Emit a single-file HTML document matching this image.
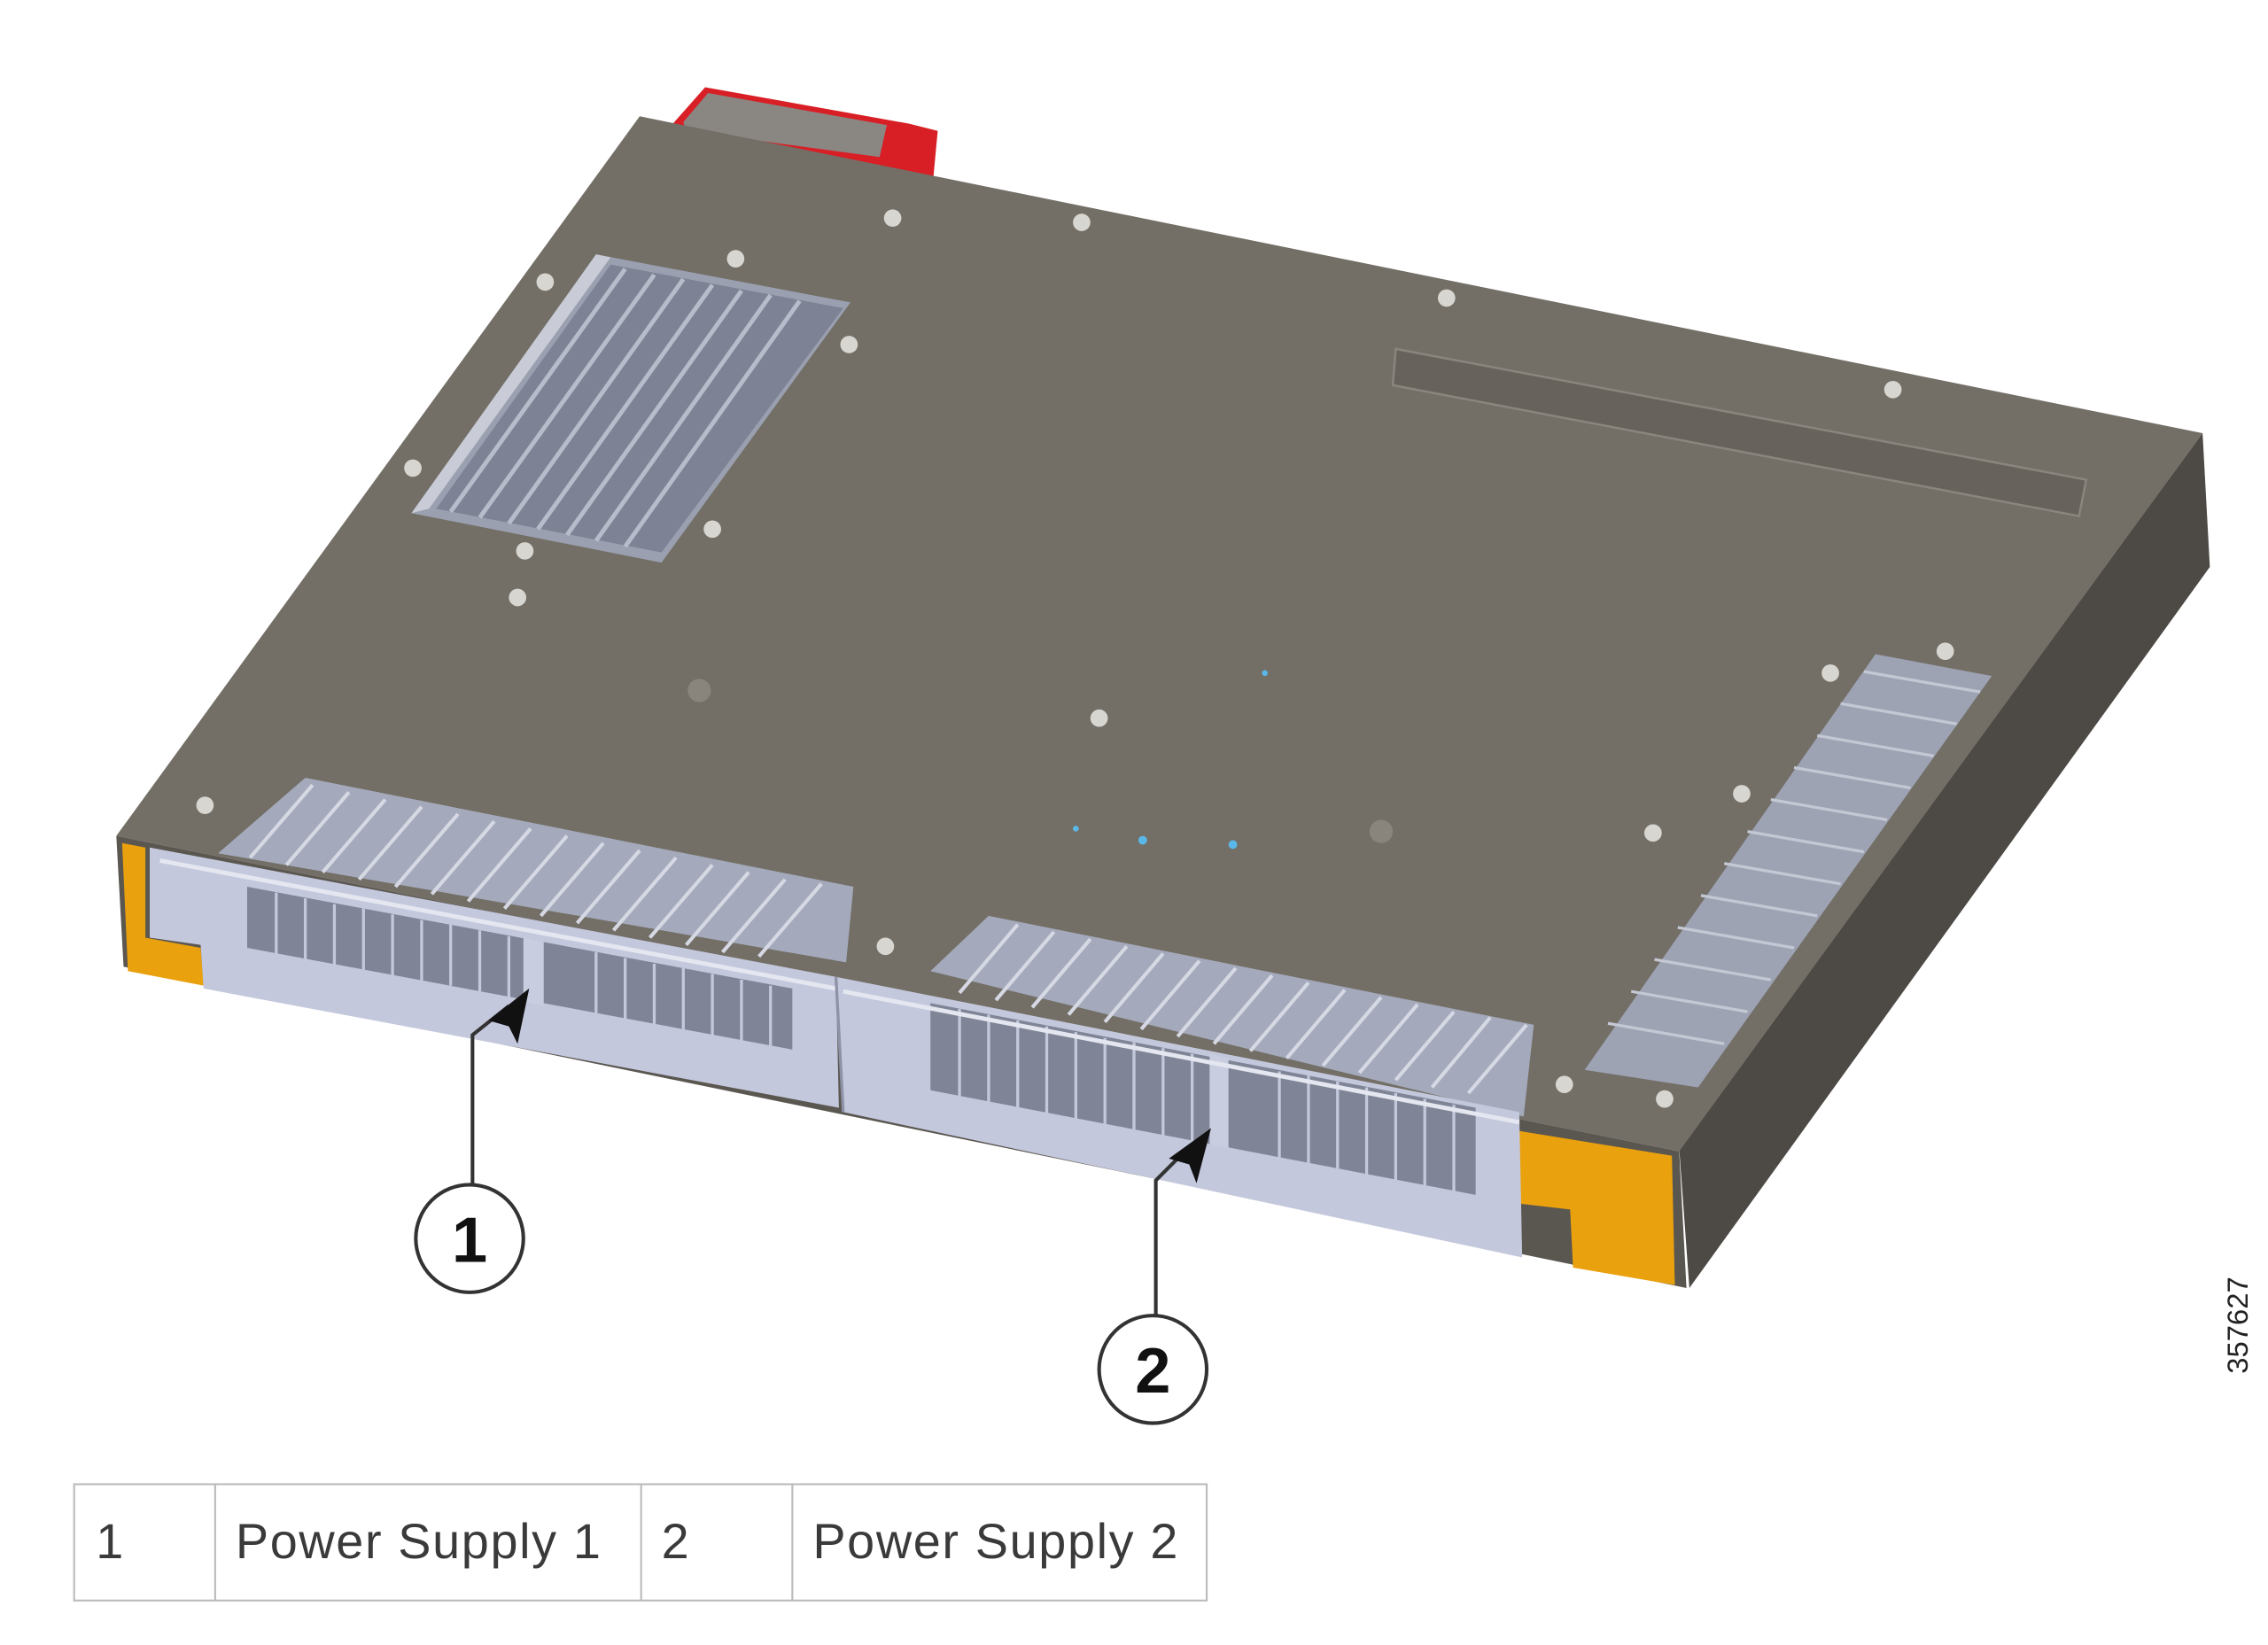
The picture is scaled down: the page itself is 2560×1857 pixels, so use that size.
<!DOCTYPE html>
<html><head><meta charset="utf-8"><style>
html,body{margin:0;padding:0;background:#fff;width:2560px;height:1857px;overflow:hidden}
svg{display:block}
</style></head><body>
<svg width="2560" height="1857" viewBox="0 0 1560 1131.6" xmlns="http://www.w3.org/2000/svg">
<polygon points="462,86 485,60 625,85 645,90 642,122 462,92" fill="#d81f26"/>
<polygon points="470,84 487,64 610,86 605,108 472,90" fill="#8a8682"/>
<polygon points="1515,298 1520,390 1162,886 1155,790" fill="#4d4a45"/>
<polygon points="440,80 1515,298 1155,792 80,575" fill="#736f67"/>
<polygon points="80,575 1155,792 1160,886 85,665" fill="#5a5650"/>
<polygon points="84,580 100,583 100,645 138,652 140,678 88,668" fill="#e9a10e"/>
<polygon points="1045,778 1150,795 1152,884 1082,872 1080,832 1045,828" fill="#e9a10e"/>
<polygon points="410,175 585,208 455,387 283,353" fill="#9aa0b0"/>
<polygon points="420,182 580,212 455,380 300,350" fill="#7d8394"/>
<g stroke="#b7bccb" stroke-width="3">
<line x1="430" y1="185" x2="310" y2="352"/><line x1="450" y1="189" x2="330" y2="356"/><line x1="470" y1="192" x2="350" y2="360"/>
<line x1="490" y1="196" x2="370" y2="364"/><line x1="510" y1="200" x2="390" y2="368"/><line x1="530" y1="203" x2="410" y2="372"/>
<line x1="550" y1="207" x2="430" y2="376"/>
</g>
<polygon points="410,175 420,177 295,350 283,353" fill="#c9ccd6"/>
<polygon points="960,240 1435,330 1430,355 958,265" fill="#67635c" stroke="#8a867e" stroke-width="1.5"/>
<polygon points="1290,450 1370,465 1168,748 1090,736" fill="#9ea3b4"/>
<g stroke="#c4c8d4" stroke-width="2">
<line x1="1282" y1="462" x2="1362" y2="476"/><line x1="1266" y1="484" x2="1346" y2="498"/><line x1="1250" y1="506" x2="1330" y2="520"/>
<line x1="1234" y1="528" x2="1314" y2="542"/><line x1="1218" y1="550" x2="1298" y2="564"/><line x1="1202" y1="572" x2="1282" y2="586"/>
<line x1="1186" y1="594" x2="1266" y2="608"/><line x1="1170" y1="616" x2="1250" y2="630"/><line x1="1154" y1="638" x2="1234" y2="652"/>
<line x1="1138" y1="660" x2="1218" y2="674"/><line x1="1122" y1="682" x2="1202" y2="696"/><line x1="1106" y1="704" x2="1186" y2="718"/>
</g>
<polygon points="150,587 210,535 587,610 582,662" fill="#a4aabb"/>
<g stroke="#d6d9e4" stroke-width="2.5">
<line x1="215" y1="540" x2="172" y2="590"/><line x1="240" y1="545" x2="197" y2="595"/><line x1="265" y1="550" x2="222" y2="600"/>
<line x1="290" y1="555" x2="247" y2="605"/><line x1="315" y1="560" x2="272" y2="610"/><line x1="340" y1="565" x2="297" y2="615"/>
<line x1="365" y1="570" x2="322" y2="620"/><line x1="390" y1="575" x2="347" y2="625"/><line x1="415" y1="580" x2="372" y2="630"/>
<line x1="440" y1="585" x2="397" y2="635"/><line x1="465" y1="590" x2="422" y2="640"/><line x1="490" y1="595" x2="447" y2="645"/>
<line x1="515" y1="600" x2="472" y2="650"/><line x1="540" y1="605" x2="497" y2="655"/><line x1="565" y1="608" x2="522" y2="658"/>
</g>
<polygon points="103,583 575,672 577,762 140,680 138,650 103,645" fill="#c4c8dc"/>
<polygon points="170,610 545,680 545,722 170,652" fill="#7f8596"/>
<g stroke="#c4c8dc" stroke-width="2">
<line x1="190" y1="614" x2="190" y2="656"/><line x1="210" y1="618" x2="210" y2="660"/><line x1="230" y1="622" x2="230" y2="664"/>
<line x1="250" y1="625" x2="250" y2="667"/><line x1="270" y1="629" x2="270" y2="671"/><line x1="290" y1="633" x2="290" y2="675"/>
<line x1="310" y1="636" x2="310" y2="678"/><line x1="330" y1="640" x2="330" y2="682"/><line x1="350" y1="644" x2="350" y2="686"/>
<line x1="410" y1="655" x2="410" y2="697"/><line x1="430" y1="659" x2="430" y2="701"/><line x1="450" y1="663" x2="450" y2="705"/>
<line x1="470" y1="666" x2="470" y2="708"/><line x1="490" y1="670" x2="490" y2="712"/><line x1="510" y1="674" x2="510" y2="716"/>
<line x1="530" y1="678" x2="530" y2="720"/>
</g>
<polygon points="360,645 374,648 374,692 360,689" fill="#c9cde0"/>
<line x1="110" y1="592" x2="575" y2="680" stroke="#e4e6f0" stroke-width="3"/>
<polygon points="640,668 680,630 1055,705 1048,768" fill="#a4aabb"/>
<g stroke="#d6d9e4" stroke-width="2.5">
<line x1="700" y1="636" x2="660" y2="683"/><line x1="725" y1="641" x2="685" y2="688"/><line x1="750" y1="646" x2="710" y2="693"/>
<line x1="775" y1="651" x2="735" y2="698"/><line x1="800" y1="656" x2="760" y2="703"/><line x1="825" y1="661" x2="785" y2="708"/>
<line x1="850" y1="666" x2="810" y2="713"/><line x1="875" y1="671" x2="835" y2="718"/><line x1="900" y1="676" x2="860" y2="723"/>
<line x1="925" y1="681" x2="885" y2="728"/><line x1="950" y1="686" x2="910" y2="733"/><line x1="975" y1="691" x2="935" y2="738"/>
<line x1="1000" y1="696" x2="960" y2="743"/><line x1="1025" y1="700" x2="985" y2="748"/><line x1="1050" y1="705" x2="1010" y2="752"/>
</g>
<polygon points="575,672 1045,765 1047,865 580,765" fill="#c4c8dc"/>
<polygon points="640,690 1015,762 1015,822 640,750" fill="#7f8596"/>
<g stroke="#c4c8dc" stroke-width="2">
<line x1="660" y1="694" x2="660" y2="754"/><line x1="680" y1="698" x2="680" y2="758"/><line x1="700" y1="702" x2="700" y2="762"/>
<line x1="720" y1="706" x2="720" y2="766"/><line x1="740" y1="710" x2="740" y2="770"/><line x1="760" y1="714" x2="760" y2="774"/>
<line x1="780" y1="717" x2="780" y2="777"/><line x1="800" y1="721" x2="800" y2="781"/><line x1="820" y1="725" x2="820" y2="785"/>
<line x1="880" y1="737" x2="880" y2="797"/><line x1="900" y1="740" x2="900" y2="800"/><line x1="920" y1="744" x2="920" y2="804"/>
<line x1="940" y1="748" x2="940" y2="808"/><line x1="960" y1="752" x2="960" y2="812"/><line x1="980" y1="756" x2="980" y2="816"/>
<line x1="1000" y1="760" x2="1000" y2="820"/>
</g>
<polygon points="832,725 845,728 845,790 832,787" fill="#c9cde0"/>
<line x1="580" y1="682" x2="1045" y2="772" stroke="#e4e6f0" stroke-width="3"/>
<line x1="575" y1="672" x2="580" y2="765" stroke="#8e92a6" stroke-width="2"/>
<g fill="#d8d6d0">
<circle cx="614" cy="150" r="6"/><circle cx="744" cy="153" r="6"/><circle cx="375" cy="194" r="6"/><circle cx="506" cy="178" r="6"/>
<circle cx="584" cy="237" r="6"/><circle cx="995" cy="205" r="6"/><circle cx="1302" cy="268" r="6"/><circle cx="284" cy="322" r="6"/>
<circle cx="490" cy="364" r="6"/><circle cx="361" cy="379" r="6"/><circle cx="356" cy="411" r="6"/><circle cx="756" cy="494" r="6"/>
<circle cx="1259" cy="463" r="6"/><circle cx="1338" cy="448" r="6"/><circle cx="1198" cy="546" r="6"/><circle cx="1137" cy="573" r="6"/>
<circle cx="141" cy="554" r="6"/><circle cx="609" cy="651" r="6"/><circle cx="1076" cy="746" r="6"/><circle cx="1145" cy="756" r="6"/>
<circle cx="481" cy="475" r="8" fill="#8a857c"/><circle cx="950" cy="572" r="8" fill="#8a857c"/>
</g>
<g fill="#5ab8e8"><circle cx="870" cy="463" r="2"/><circle cx="786" cy="578" r="3"/><circle cx="848" cy="581" r="3"/><circle cx="740" cy="570" r="2"/></g>
<g stroke="#333" stroke-width="2.5" fill="none">
<polyline points="325,815 325,712 350,692"/>
<polyline points="795,905 795,812 815,792"/>
</g>
<polygon points="364,680 336,702 350,706 356,718" fill="#111"/>
<polygon points="833,776 804,797 818,801 823,814" fill="#111"/>
<g stroke="#333" stroke-width="2.5" fill="#fff">
<circle cx="323" cy="852" r="37"/><circle cx="793" cy="942" r="37"/>
</g>
<g font-family="Liberation Sans, sans-serif" font-weight="bold" font-size="44" fill="#111" text-anchor="middle">
<text x="323" y="868">1</text><text x="793" y="958">2</text>
</g>
<text transform="translate(1546,945) rotate(-90)" font-family="Liberation Sans, sans-serif" font-size="20" fill="#222">357627</text>
<g stroke="#bbb" stroke-width="1.3" fill="none">
<rect x="51" y="1021" width="779" height="80"/>
<line x1="148" y1="1021" x2="148" y2="1101"/><line x1="441" y1="1021" x2="441" y2="1101"/><line x1="545" y1="1021" x2="545" y2="1101"/>
</g>
<g font-family="Liberation Sans, sans-serif" font-size="34" fill="#3a3a3a" letter-spacing="1">
<text x="66" y="1072">1</text><text x="162" y="1072">Power Supply 1</text><text x="455" y="1072">2</text><text x="559" y="1072">Power Supply 2</text>
</g>
</svg>
</body></html>
